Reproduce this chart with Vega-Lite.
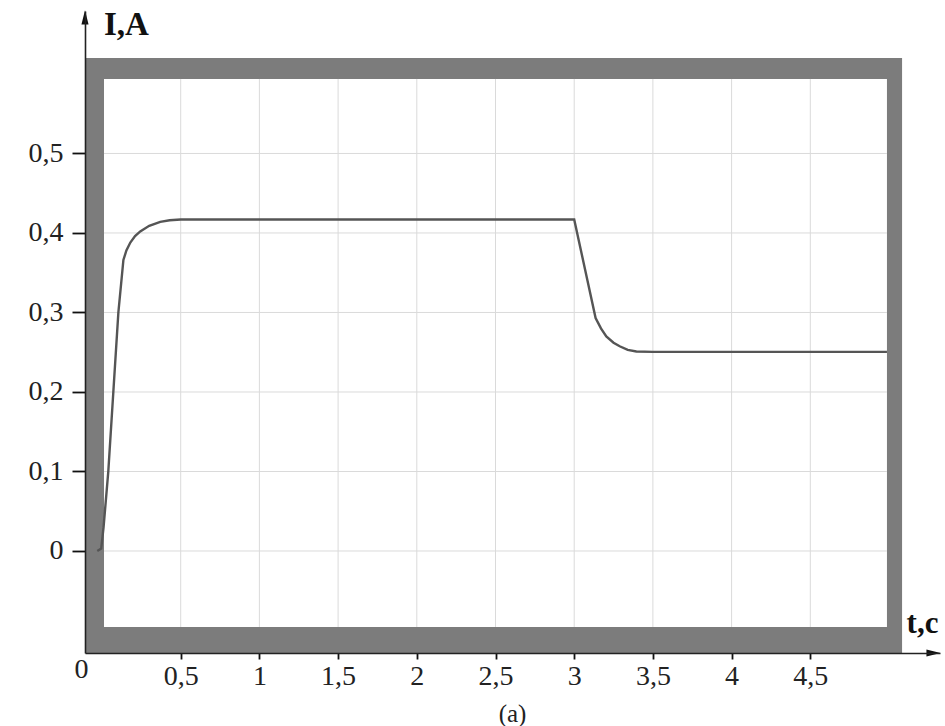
{
  "$schema": "https://vega.github.io/schema/vega-lite/v6.json",
  "width": 855,
  "height": 642,
  "autosize": {"type": "none"},
  "padding": {"left": 85, "top": 11, "right": 5, "bottom": 73},
  "background": "white",
  "config": {"view": {"stroke": null}, "font": "Liberation Serif"},
  "title": {"text": "(a)", "orient": "bottom", "anchor": "middle", "frame": "group", "offset": 12, "font": "Liberation Serif", "fontSize": 25, "fontWeight": "normal", "color": "#222"},
  "datasets": {
    "frame": [
      {"part": "outer", "t": -0.108, "t2": 5.083, "v": -0.1283, "v2": 0.62},
      {"part": "inner", "t": 0.0127, "t2": 4.987, "v": -0.0956, "v2": 0.5937}
    ],
    "vgrid": [{"t": 0.5}, {"t": 1}, {"t": 1.5}, {"t": 2}, {"t": 2.5}, {"t": 3}, {"t": 3.5}, {"t": 4}, {"t": 4.5}],
    "hgrid": [{"v": 0}, {"v": 0.1}, {"v": 0.2}, {"v": 0.3}, {"v": 0.4}, {"v": 0.5}],
    "current": [
      {"t": -0.03, "v": 0.0},
      {"t": -0.005, "v": 0.003},
      {"t": 0.01, "v": 0.03},
      {"t": 0.025, "v": 0.065},
      {"t": 0.04, "v": 0.1},
      {"t": 0.072, "v": 0.2},
      {"t": 0.104, "v": 0.3},
      {"t": 0.136, "v": 0.366},
      {"t": 0.155, "v": 0.378},
      {"t": 0.18, "v": 0.388},
      {"t": 0.21, "v": 0.396},
      {"t": 0.243, "v": 0.402},
      {"t": 0.3, "v": 0.409},
      {"t": 0.37, "v": 0.414},
      {"t": 0.43, "v": 0.416},
      {"t": 0.5, "v": 0.417},
      {"t": 3.0, "v": 0.417},
      {"t": 3.136, "v": 0.293},
      {"t": 3.17, "v": 0.28},
      {"t": 3.204, "v": 0.27},
      {"t": 3.25, "v": 0.262},
      {"t": 3.289, "v": 0.2575},
      {"t": 3.34, "v": 0.253},
      {"t": 3.395, "v": 0.251},
      {"t": 3.5, "v": 0.2505},
      {"t": 4.987, "v": 0.2505}
    ],
    "arrows": [
      {"dir": "up", "t": -0.108, "v": 0.6711},
      {"dir": "right", "t": 5.2827, "v": -0.1283}
    ]
  },
  "layer": [
    {
      "data": {"name": "frame"},
      "mark": {"type": "rect"},
      "encoding": {
        "x": {
          "field": "t", "type": "quantitative",
          "scale": {"domain": [-0.108, 5.324], "nice": false, "zero": false},
          "axis": {
            "values": [-0.108, 0.5, 1, 1.5, 2, 2.5, 3, 3.5, 4, 4.5],
            "labelExpr": "datum.value < 0 ? '0' : replace(format(datum.value, '~g'), '.', ',')",
            "title": "t,c", "titleX": 837, "titleY": -21, "titleAngle": 0, "titleAlign": "center", "titleBaseline": "alphabetic",
            "titleFont": "Liberation Serif", "titleFontSize": 31, "titleFontWeight": "bold", "titleColor": "#111",
            "labelFont": "Liberation Serif", "labelFontSize": 28, "labelColor": "#222",
            "labelPadding": {"condition": {"test": "datum.value < 0", "value": -4}, "value": 3},
            "labelOffset": {"condition": {"test": "datum.value < 0", "value": -4}, "value": 0},
            "tickOpacity": {"condition": {"test": "datum.value < 0", "value": 0}, "value": 1},
            "tickSize": 6, "tickColor": "#111", "tickWidth": 1.8,
            "domainColor": "#222", "domainWidth": 1.6, "grid": false, "zindex": 1,
            "labelFlush": false, "labelOverlap": false
          }
        },
        "x2": {"field": "t2"},
        "y": {
          "field": "v", "type": "quantitative",
          "scale": {"domain": [-0.1283, 0.6792], "nice": false, "zero": false},
          "axis": {
            "values": [0, 0.1, 0.2, 0.3, 0.4, 0.5],
            "labelExpr": "datum.value == 0 ? '0' : replace(format(datum.value, '.1f'), '.', ',')",
            "title": "I,A", "titleX": 41, "titleY": 23, "titleAngle": 0, "titleAlign": "center", "titleBaseline": "alphabetic",
            "titleFont": "Liberation Serif", "titleFontSize": 33, "titleFontWeight": "bold", "titleColor": "#111",
            "labelFont": "Liberation Serif", "labelFontSize": 28, "labelColor": "#222", "labelPadding": 9,
            "tickSize": 13, "tickColor": "#111", "tickWidth": 1.8,
            "domainColor": "#222", "domainWidth": 1.6, "grid": false, "zindex": 1,
            "labelFlush": false, "labelOverlap": false
          }
        },
        "y2": {"field": "v2"},
        "color": {"field": "part", "type": "nominal", "scale": {"domain": ["outer", "inner"], "range": ["#7c7c7c", "#ffffff"]}, "legend": null}
      }
    },
    {
      "data": {"name": "vgrid"},
      "mark": {"type": "rule", "color": "#dadada", "strokeWidth": 1},
      "encoding": {
        "x": {"field": "t", "type": "quantitative"},
        "y": {"datum": -0.0956, "type": "quantitative"},
        "y2": {"datum": 0.5937}
      }
    },
    {
      "data": {"name": "hgrid"},
      "mark": {"type": "rule", "color": "#dadada", "strokeWidth": 1},
      "encoding": {
        "y": {"field": "v", "type": "quantitative"},
        "x": {"datum": 0.0127, "type": "quantitative"},
        "x2": {"datum": 4.987}
      }
    },
    {
      "data": {"name": "current"},
      "mark": {"type": "line", "color": "#555555", "strokeWidth": 2.4},
      "encoding": {
        "x": {"field": "t", "type": "quantitative"},
        "y": {"field": "v", "type": "quantitative"}
      }
    },
    {
      "data": {"name": "arrows"},
      "mark": {"type": "point", "filled": true, "opacity": 1, "size": 200, "color": "#111", "strokeWidth": 0},
      "encoding": {
        "x": {"field": "t", "type": "quantitative"},
        "y": {"field": "v", "type": "quantitative"},
        "shape": {"field": "dir", "type": "nominal", "scale": {"domain": ["up", "right"], "range": ["M0,-1L0.5,1L-0.5,1Z", "M1,0L-1,-0.5L-1,0.5Z"]}, "legend": null}
      }
    }
  ]
}
